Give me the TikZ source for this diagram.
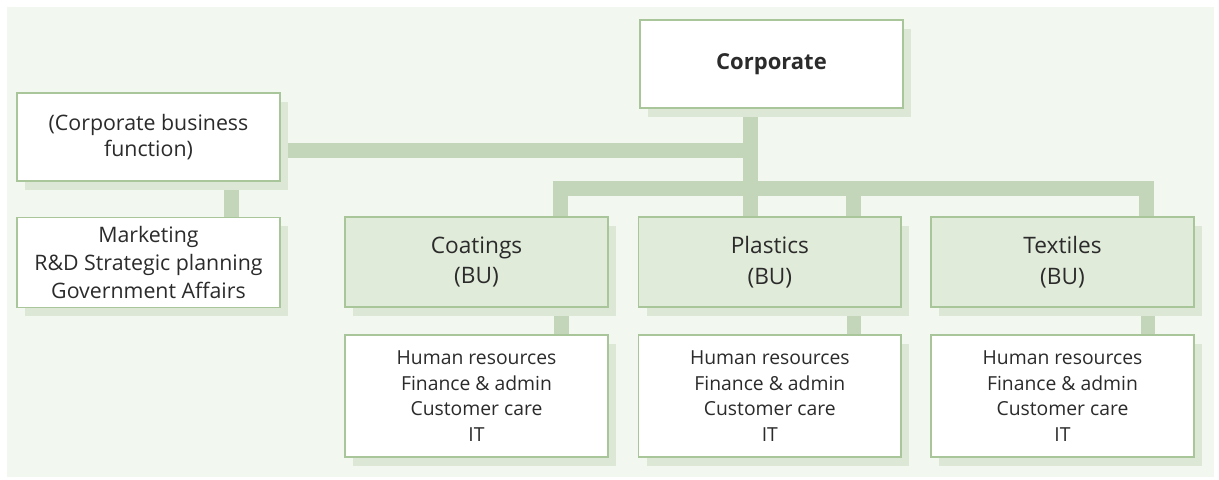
\documentclass[tikz,border=0pt]{standalone}
\usepackage{fontspec}
\setmainfont{Open Sans}
\usetikzlibrary{positioning,shadows}
\definecolor{panelgreen}{HTML}{F2F7F0}
\definecolor{bargreen}{HTML}{C4D6B9}
\definecolor{edgegreen}{HTML}{A8C699}
\definecolor{shadowgreen}{HTML}{DCE7D5}
\definecolor{unitgreen}{HTML}{E0EBD9}
\definecolor{textgray}{HTML}{2B2B2B}
\pgfdeclarelayer{panel}
\pgfdeclarelayer{bars}
\pgfsetlayers{panel,bars,main}
\tikzset{
    orgbox/.style={
           rectangle,
           draw=edgegreen,
           line width=1.2pt,
           fill=white,
           minimum width=197pt,
           minimum height=66pt,
           inner sep=2pt,
           align=center,
           text=textgray,
           drop shadow={shadow xshift=6pt,shadow yshift=-6.5pt,fill=shadowgreen,opacity=1},
           font=\fontsize{16}{20}\selectfont,
           },
    unitbox/.style={
           orgbox,
           fill=unitgreen,
           minimum height=67.5pt,
           font=\fontsize{17}{23}\selectfont,
           },
    staffbox/.style={
           orgbox,
           minimum height=91.5pt,
           font=\fontsize{14.5}{19.3}\selectfont,
           },
    bar/.style={draw=bargreen, line width=11pt},
}

\begin{document}
\begin{tikzpicture}[x=0.75pt,y=-0.75pt]
 \useasboundingbox (0,0) rectangle (1219,479);
 \begin{pgfonlayer}{panel}
  \fill[panelgreen] (7,7) rectangle (1214,477);
 \end{pgfonlayer}

 \node[orgbox, font=\fontsize{16.5}{20}\selectfont\bfseries] (CORP) at (771.5,64)
 {Corporate};

 \node[orgbox] (CBF) at (148.5,137)
 {(Corporate business\\function)};

 \node[orgbox,
 node distance=94pt,
 below of=CBF,
 minimum height=67.5pt,
 font=\fontsize{16}{21}\selectfont,
 ] (MKT)
 {Marketing\\R\&D Strategic planning\\Government Affairs};

 \node[unitbox] (COAT) at (476.5,262)
 {Coatings\\(BU)};

 \node[unitbox,
 node distance=220pt,
 right of=COAT,
 ] (PLAS)
 {Plastics\\(BU)};

 \node[unitbox,
 node distance=219.5pt,
 right of=PLAS,
 ] (TEXT)
 {Textiles\\(BU)};

 \node[staffbox,
 node distance=100.5pt,
 below of=COAT,
 ] (COATSTAFF)
 {Human resources\\Finance \& admin\\Customer care\\IT};

 \node[staffbox,
 node distance=100.5pt,
 below of=PLAS,
 ] (PLASSTAFF)
 {Human resources\\Finance \& admin\\Customer care\\IT};

 \node[staffbox,
 node distance=100.5pt,
 below of=TEXT,
 ] (TEXTSTAFF)
 {Human resources\\Finance \& admin\\Customer care\\IT};

 % connecting bars, kept behind the boxes and their shadows
 \begin{pgfonlayer}{bars}
  \coordinate (corpstem) at ([xshift=-16pt]CORP.south);
  \draw[bar] (corpstem) -- (corpstem |- PLAS.north);
  \draw[bar] ([yshift=-10pt]CBF.east) -- ([yshift=-10pt]CBF.east -| corpstem);
  \draw[bar] ([xshift=63pt]COAT.north) -- ++(0,-28) -| ([xshift=63pt]TEXT.north);
  \draw[bar] ([xshift=62.5pt]PLAS.north) -- ++(0,-28);
  \draw[bar] ([xshift=62pt]CBF.south) -- ([xshift=62pt]MKT.north);
  \draw[bar] ([xshift=63.5pt]COAT.south) -- ([xshift=63.5pt]COATSTAFF.north);
  \draw[bar] ([xshift=63pt]PLAS.south) -- ([xshift=63pt]PLASSTAFF.north);
  \draw[bar] ([xshift=64pt]TEXT.south) -- ([xshift=64pt]TEXTSTAFF.north);
 \end{pgfonlayer}
\end{tikzpicture}
\end{document}
